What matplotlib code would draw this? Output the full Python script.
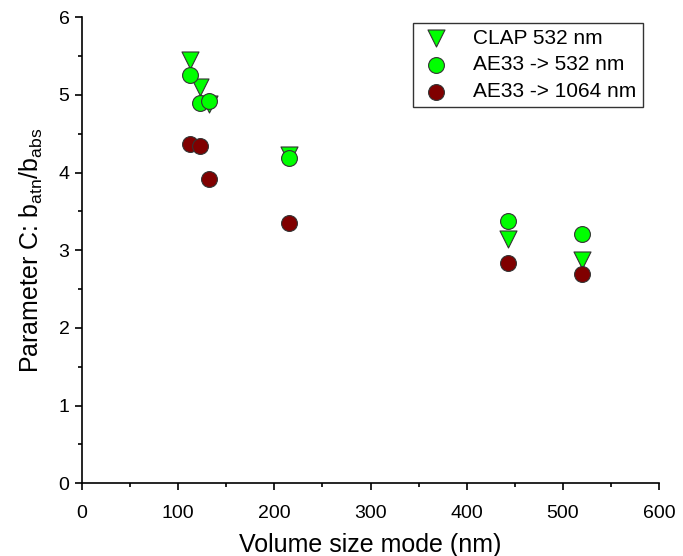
import matplotlib
matplotlib.use("Agg")
import matplotlib.pyplot as plt
from matplotlib.ticker import MultipleLocator

plt.rcParams['font.family'] = ['Liberation Sans', 'DejaVu Sans']
plt.rcParams['mathtext.fontset'] = 'custom'
plt.rcParams['mathtext.rm'] = 'Liberation Sans'
plt.rcParams['mathtext.it'] = 'Liberation Sans'

# volume size mode (nm) for each sample
size_mode = [112, 123, 132, 215, 443, 520]
# CLAP at 532 nm
clap_532 = [5.45, 5.10, 4.88, 4.23, 3.14, 2.88]
# AE33 converted to 532 nm and 1064 nm
ae33_532 = [5.26, 4.90, 4.92, 4.19, 3.38, 3.21]
ae33_1064 = [4.37, 4.34, 3.92, 3.35, 2.84, 2.69]

fig = plt.figure(figsize=(6.83, 5.56), dpi=100)
ax = fig.add_axes([0.120, 0.131, 0.845, 0.838])

ax.scatter(size_mode, clap_532, marker='v', s=150, color='#00ff00',
           edgecolor='#333333', linewidth=0.8, label='CLAP 532 nm', zorder=3)
ax.scatter(size_mode, ae33_532, marker='o', s=130, color='#00ff00',
           edgecolor='#333333', linewidth=0.8, label='AE33 -> 532 nm', zorder=4)
ax.scatter(size_mode, ae33_1064, marker='o', s=130, color='#800000',
           edgecolor='#333333', linewidth=0.8, label='AE33 -> 1064 nm', zorder=4)

ax.set_xlim(0, 600)
ax.set_ylim(0, 6)
ax.xaxis.set_major_locator(MultipleLocator(100))
ax.xaxis.set_minor_locator(MultipleLocator(50))
ax.yaxis.set_major_locator(MultipleLocator(1))
ax.yaxis.set_minor_locator(MultipleLocator(0.5))
ax.tick_params(which='major', direction='out', length=5, width=1.2, labelsize=14, pad=4)
ax.tick_params(axis='x', which='major', pad=11)
ax.tick_params(which='minor', direction='out', length=3, width=1.2)
for side in ['top', 'right']:
    ax.spines[side].set_visible(False)
for side in ['left', 'bottom']:
    ax.spines[side].set_linewidth(1.2)

ax.set_xlabel('Volume size mode (nm)', fontsize=18, labelpad=8)
ax.set_ylabel(r'Parameter C: b$_{\mathrm{atn}}$/b$_{\mathrm{abs}}$', fontsize=18, labelpad=10)

leg = ax.legend(loc='upper right', bbox_to_anchor=(0.99, 1.011), fontsize=15,
                frameon=True, fancybox=False, edgecolor='black',
                handletextpad=1.0, borderpad=0.3, labelspacing=0.37,
                handlelength=1.6)
leg.get_frame().set_linewidth(1.0)

fig.savefig('out.png', dpi=100)
